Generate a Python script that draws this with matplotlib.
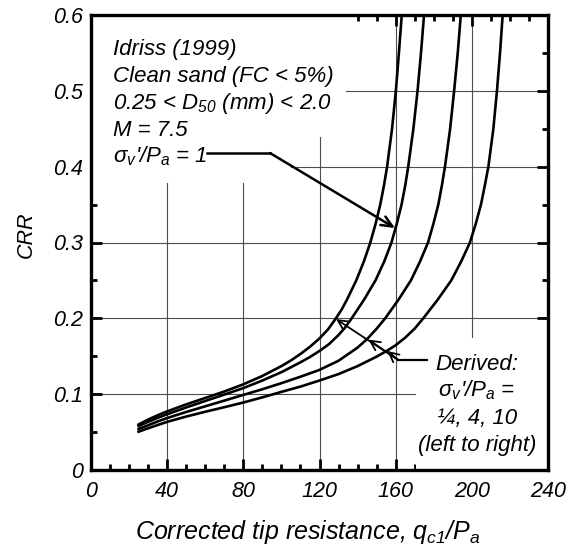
import matplotlib
matplotlib.use('Agg')
import matplotlib.pyplot as plt
from matplotlib.patches import Rectangle
from matplotlib.ticker import MultipleLocator

plt.rcParams['font.family'] = ['Liberation Sans', 'DejaVu Sans']
plt.rcParams['font.style'] = 'italic'
plt.rcParams['mathtext.fontset'] = 'custom'
plt.rcParams['mathtext.rm'] = 'Liberation Sans'
plt.rcParams['mathtext.it'] = 'Liberation Sans:italic'
plt.rcParams['mathtext.sf'] = 'Liberation Sans:italic'

# curves, sigma_v'/Pa = 1/4, 1, 4, 10
q_quarter = [25, 30, 35, 40, 50, 60, 70, 80, 90, 100, 105, 110, 115, 120,
             124.5, 128.5, 131.5, 134.4, 139.3, 143.3, 146.7, 149.5, 151.9,
             153.85, 155.5, 158.1, 160.1, 161.7, 163.2]
crr_quarter = [0.060, 0.0665, 0.0722, 0.0773, 0.0865, 0.095, 0.1035, 0.113,
               0.124, 0.137, 0.1445, 0.153, 0.1625, 0.1735, 0.1855, 0.1995,
               0.211, 0.2245, 0.250, 0.275, 0.300, 0.325, 0.350, 0.375, 0.400,
               0.450, 0.500, 0.550, 0.600]

q_one = [25, 30, 35, 40, 50, 60, 70, 80, 90, 100, 110, 115, 120, 125, 130,
         133.5, 136.9, 143.5, 149.4, 154.0, 157.8, 160.6, 163.1, 165.0, 166.6,
         169.3, 171.5, 173.3, 174.9]
crr_one = [0.058, 0.0635, 0.0688, 0.0735, 0.0825, 0.091, 0.0995, 0.108, 0.118,
           0.129, 0.142, 0.149, 0.157, 0.166, 0.178, 0.188, 0.200, 0.225,
           0.250, 0.275, 0.300, 0.325, 0.350, 0.375, 0.400, 0.450, 0.500,
           0.550, 0.600]

q_four = [25, 30, 35, 40, 50, 60, 70, 80, 90, 100, 110, 120, 130, 140, 145,
          150, 154.5, 161.6, 168.0, 172.8, 177.0, 179.85, 182.4, 184.25, 185.9,
          188.6, 190.7, 192.6, 194.2]
crr_four = [0.054, 0.059, 0.064, 0.0685, 0.0765, 0.084, 0.0915, 0.099, 0.1065,
            0.1145, 0.123, 0.132, 0.1441, 0.1614, 0.1727, 0.1863, 0.200, 0.225,
            0.250, 0.275, 0.300, 0.325, 0.350, 0.375, 0.400, 0.450, 0.500,
            0.550, 0.600]

q_ten = [25, 30, 35, 40, 50, 60, 70, 80, 90, 100, 110, 120, 130, 140, 150,
         155.6, 160, 165, 170, 174.5, 182.2, 189.2, 194.4, 199.0, 202.1, 204.8,
         206.8, 208.7, 211.3, 213.2, 214.8, 216.2]
crr_ten = [0.0505, 0.055, 0.0593, 0.0635, 0.0705, 0.0768, 0.0828, 0.089,
           0.0958, 0.103, 0.110, 0.118, 0.1265, 0.137, 0.1495, 0.1575, 0.1645,
           0.1745, 0.1865, 0.200, 0.225, 0.250, 0.275, 0.300, 0.325, 0.350,
           0.375, 0.400, 0.450, 0.500, 0.550, 0.600]

x_ticks = [0, 40, 80, 120, 160, 200, 240]
y_ticks = [0, 0.1, 0.2, 0.3, 0.4, 0.5, 0.6]
y_ticklabels = ['0', '0.1', '0.2', '0.3', '0.4', '0.5', '0.6']

fig = plt.figure(figsize=(5.79, 5.52), dpi=100)
ax = fig.add_axes([91 / 579, 82 / 552, 457 / 579, 455 / 552])

for q, crr in [(q_quarter, crr_quarter), (q_one, crr_one),
               (q_four, crr_four), (q_ten, crr_ten)]:
    ax.plot(q, crr, color='black', lw=1.9, zorder=2, solid_joinstyle='round')

ax.set_xlim(0, 240)
ax.set_ylim(0, 0.6)
ax.set_xticks(x_ticks)
ax.set_xticklabels([str(v) for v in x_ticks])
ax.set_yticks(y_ticks)
ax.set_yticklabels(y_ticklabels)
ax.xaxis.set_minor_locator(MultipleLocator(10))
ax.yaxis.set_minor_locator(MultipleLocator(0.05))
ax.tick_params(which='both', direction='in', top=True, right=True,
               width=2, labelsize=15.5)
ax.tick_params(which='major', length=8)
ax.tick_params(which='minor', length=4.5)
ax.tick_params(axis='x', pad=8)
ax.tick_params(axis='y', pad=6)
for s in ax.spines.values():
    s.set_linewidth(2.4)

ax.set_axisbelow(True)
ax.grid(True, which='major', color='0.3', lw=0.8)

# white areas behind the notes
ax.add_patch(Rectangle((0, 0.439), 134, 0.161, fc='white', ec='none', zorder=1))
ax.add_patch(Rectangle((0, 0.378), 105, 0.061, fc='white', ec='none', zorder=1))
ax.add_patch(Rectangle((170.7, 0), 69.3, 0.174, fc='white', ec='none', zorder=1))

notes = ['Idriss (1999)', 'Clean sand (FC < 5%)',
         '0.25 < $D_{50}$ (mm) < 2.0', 'M = 7.5',
         r"$\mathrm{\sigma}_v$'/$P_a$ = 1"]
for i, t in enumerate(notes):
    ax.text(11.5, 0.5475 - i * 0.0356, t, fontsize=16, va='baseline',
            ha='left', zorder=3)

# arrow to the sigma = 1 curve
ax.plot([61, 94], [0.418, 0.418], color='black', lw=1.8, zorder=3)
ax.annotate('', xy=(159.7, 0.319), xytext=(94, 0.418),
            arrowprops=dict(arrowstyle='->,head_length=0.5,head_width=0.22',
                            color='black', lw=1.8, mutation_scale=16,
                            shrinkA=0, shrinkB=0),
            zorder=3)

derived = ['Derived:', r"$\mathrm{\sigma}_v$'/$P_a$ =", '¼, 4, 10',
           '(left to right)']
for i, t in enumerate(derived):
    ax.text(202.6, 0.132 - i * 0.0355, t, fontsize=16, va='baseline',
            ha='center', zorder=3)

ax.plot([176.3, 161.4], [0.145, 0.145], color='black', lw=1.6, zorder=3)
for tip in [(128.7, 0.199), (145.7, 0.172), (155.6, 0.157)]:
    ax.annotate('', xy=tip, xytext=(161.4, 0.145),
                arrowprops=dict(arrowstyle='->,head_length=0.5,head_width=0.25',
                                color='black', lw=1.3, mutation_scale=14,
                                shrinkA=0, shrinkB=0),
                zorder=3)

ax.set_ylabel('CRR', fontsize=15.5)
ax.yaxis.set_label_coords(-0.118, 0.516)
ax.set_xlabel('Corrected tip resistance, $q_{c1}$/$P_a$', fontsize=18)
ax.xaxis.set_label_coords(0.4737, -0.105)

fig.savefig('out.png', dpi=100)
